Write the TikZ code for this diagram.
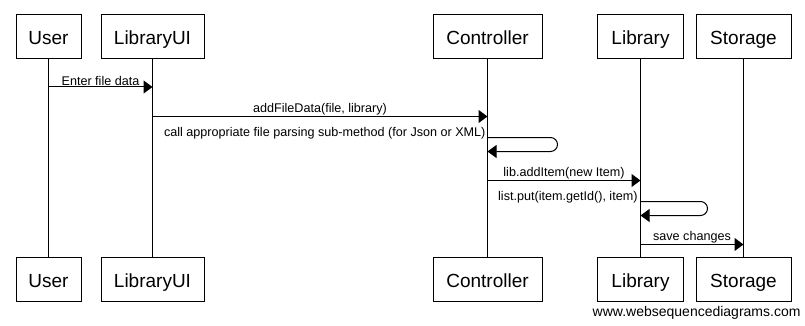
\documentclass[tikz,border=0pt]{standalone}
\usepackage{fontspec}
\setmainfont{Liberation Sans}
\usetikzlibrary{arrows.meta}

\begin{document}
\begin{tikzpicture}[x=1pt,y=-1pt,line width=1pt,
    actor/.style={draw,minimum height=44pt,inner sep=0pt,text height=16pt,text depth=0pt,
        font=\fontsize{19}{22}\selectfont},
    msg/.style={-{Triangle[length=9pt,width=13pt]}},
    lbl/.style={font=\fontsize{12.6}{15}\selectfont,inner sep=0.5pt}]
    \useasboundingbox (0,0) rectangle (805,326);

    % participants, head and foot, with their lifelines
    \foreach \name/\txt/\x/\w in {user/User/48.5/65, libui/LibraryUI/152.5/103,
        ctrl/Controller/487.5/109, lib/Library/640.5/86, store/Storage/743.5/95} {
      \node[actor,minimum width=\w pt] (\name) at (\x,37) {\txt};
      \node[actor,minimum width=\w pt] (\name-b) at (\x,279) {\txt};
      \draw (\name) -- (\name-b);
    }

    \coordinate (m1) at (0,87);
    \coordinate (m2) at (0,116.5);
    \coordinate (s1) at (0,137.5);
    \coordinate (s1e) at (0,151.5);
    \coordinate (m4) at (0,180.5);
    \coordinate (s2) at (0,201.5);
    \coordinate (s2e) at (0,215.5);
    \coordinate (m6) at (0,244.5);

    \draw[msg] (user |- m1) -- node[lbl,above=0pt] {Enter file data} (libui |- m1);
    \draw[msg] (libui |- m2) -- node[lbl,above=0pt] {addFileData(file, library)} (ctrl |- m2);
    \draw[msg,rounded corners=7pt] (ctrl |- s1)
        node[lbl,anchor=base east,xshift=-1pt,yshift=1.5pt] {call appropriate file parsing sub-method (for Json or XML)}
        -- ++(70,0) |- (ctrl |- s1e);
    \draw[msg] (ctrl |- m4) -- node[lbl,above=0pt] {lib.addItem(new Item)} (lib |- m4);
    \draw[msg,rounded corners=7pt] (lib |- s2)
        node[lbl,anchor=base east,xshift=-2pt,yshift=1.5pt] {list.put(item.getId(), item)}
        -- ++(67,0) |- (lib |- s2e);
    \draw[msg] (lib |- m6) -- node[lbl,above=0pt] {save changes} (store |- m6);

    \node[anchor=east,inner sep=0pt,font=\fontsize{14}{16}\selectfont] (site) at (801,313) {www.websequencediagrams.com};
\end{tikzpicture}
\end{document}
